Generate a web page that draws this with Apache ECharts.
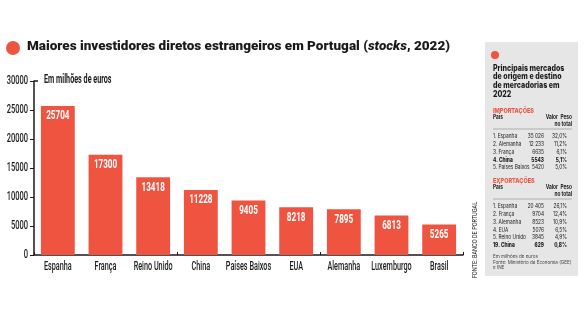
<!DOCTYPE html>
<html>
<head>
<meta charset="utf-8">
<script src="https://cdn.jsdelivr.net/npm/echarts@6/dist/echarts.min.js"></script>
<style>
  html, body { margin: 0; padding: 0; background: #ffffff; }
  #chart { width: 584px; height: 329px; }
</style>
</head>
<body>
<div id="chart"></div>
<script>
// Foreign direct investment stocks in Portugal, 2022 (million euros)
const countries = ['Espanha', 'França', 'Reino Unido', 'China', 'Países Baixos', 'EUA', 'Alemanha', 'Luxemburgo', 'Brasil'];
const investment = [25704, 17300, 13418, 11228, 9405, 8218, 7895, 6813, 5265];
const yTicks = [0, 5000, 10000, 15000, 20000, 25000, 30000];

// Side panel: main trading partners
const importCountries = ['1. Espanha', '2. Alemanha', '3. França', '4. China', '5. Países Baixos'];
const importValues = ['35 026', '12 233', '6635', '5543', '5420'];
const importShares = ['32,0%', '11,2%', '6,1%', '5,1%', '5,0%'];
const exportCountries = ['1. Espanha', '2. França', '3. Alemanha', '4. EUA', '5. Reino Unido', '19. China'];
const exportValues = ['20 405', '9704', '8523', '5076', '3845', '629'];
const exportShares = ['26,1%', '12,4%', '10,9%', '6,5%', '4,9%', '0,8%'];

const RED = '#ef5440';
const INK = '#1a1a1a';
const SANS = 'Roboto, "Noto Sans", sans-serif';
const HEAVY = 'Inter, Roboto, sans-serif';
const GRID_LEFT = 34;

const chart = echarts.init(document.getElementById('chart'), null, { renderer: 'canvas' });

chart.setOption({
  backgroundColor: '#ffffff',
  animation: false,
  title: {
    left: 27, top: 40, padding: 0,
    text: '{b|Maiores investidores diretos estrangeiros em Portugal (}{i|stocks}{b|, 2022)}',
    textStyle: {
      rich: {
        b: { fontFamily: SANS, fontWeight: 900, fontSize: 13.5, color: INK },
        i: { fontFamily: SANS, fontWeight: 900, fontStyle: 'italic', fontSize: 13.5, color: INK }
      }
    }
  },
  grid: { left: GRID_LEFT, right: 121, top: 81, bottom: 74, containLabel: false, outerBoundsMode: 'none' },
  xAxis: {
    type: 'category',
    data: countries,
    axisLine: { lineStyle: { color: INK, width: 1.5 } },
    axisTick: { show: true, inside: true, length: 3, lineStyle: { color: INK } },
    axisLabel: { show: false }
  },
  yAxis: {
    type: 'value',
    min: yTicks[0], max: yTicks[yTicks.length - 1], interval: 5000,
    axisLine: { show: true, lineStyle: { color: INK, width: 1.5 } },
    axisTick: { show: true, length: 4, lineStyle: { color: INK } },
    splitLine: { show: false },
    axisLabel: { show: false }
  },
  series: [{
    type: 'bar',
    data: investment,
    barWidth: '71%',
    itemStyle: { color: RED }
  }]
});

// Condensed text: regular faces squeezed horizontally
function narrow(x, y, text, size, weight, align, sx, fill) {
  return {
    type: 'text', x: x, y: y, scaleX: sx, silent: true, z: 100,
    style: {
      text: text, fill: fill || INK,
      font: weight + ' ' + size + 'px ' + SANS,
      textAlign: align, textVerticalAlign: 'middle'
    }
  };
}

const g = [];
const px = function (cat, v) { return chart.convertToPixel({ gridIndex: 0 }, [cat, v]); };

// category labels
countries.forEach(function (c) {
  const p = px(c, 0);
  g.push(narrow(p[0], p[1] + 12, c, 12.5, 500, 'center', 0.58));
});
// value-axis labels
yTicks.forEach(function (v) {
  const y = chart.convertToPixel({ yAxisIndex: 0 }, v);
  g.push(narrow(GRID_LEFT - 6, y, String(v), 12.5, 500, 'right', 0.6));
});
// stub at top of value axis
const topY = chart.convertToPixel({ yAxisIndex: 0 }, yTicks[yTicks.length - 1]);
g.push({ type: 'line', z: 100, shape: { x1: GRID_LEFT, y1: topY, x2: GRID_LEFT + 4, y2: topY }, style: { stroke: INK, lineWidth: 1.5 } });
// axis unit
g.push(narrow(GRID_LEFT + 10, topY - 1, 'Em milhões de euros', 12, 700, 'left', 0.6));
// bar value labels
countries.forEach(function (c, i) {
  const p = px(c, investment[i]);
  g.push(narrow(p[0], p[1] + 10, String(investment[i]), 13.5, 700, 'center', 0.6, '#ffffff'));
});
// source note
g.push({
  type: 'text', x: 475, y: 240, rotation: Math.PI / 2, scaleX: 0.7, silent: true, z: 100,
  style: { text: 'FONTE: BANCO DE PORTUGAL', fill: INK, font: '400 8px ' + SANS, textAlign: 'center', textVerticalAlign: 'middle' }
});

// title bullet
g.push({ type: 'circle', z: 100, shape: { cx: 13, cy: 48, r: 7 }, style: { fill: RED } });

// side panel
const PX = 493, VX = 544, SX = 567, VH = 558, SH = 572;
g.push({ type: 'rect', z: 50, shape: { x: 485, y: 42, width: 93, height: 234 }, style: { fill: '#e6e6e6' } });
g.push({ type: 'circle', z: 100, shape: { cx: 495, cy: 55, r: 4 }, style: { fill: RED } });
function ptxt(x, y, text, size, weight, align, fill, sx) {
  g.push({
    type: 'text', x: x, y: y, scaleX: sx || 0.8, silent: true, z: 100,
    style: { text: text, fill: fill || INK, font: weight + ' ' + size + 'px ' + HEAVY, textAlign: align || 'left', textVerticalAlign: 'middle' }
  });
}
['Principais mercados', 'de origem e destino', 'de mercadorias em', '2022'].forEach(function (t, i) {
  ptxt(PX, 68 + i * 8.7, t, 8.6, 800, 'left', INK, 0.82);
});
function table(title, y0, names, values, shares, boldName) {
  ptxt(PX, y0, title, 6.5, 800, 'left', RED, 0.85);
  ptxt(PX, y0 + 6, 'País', 6, 700);
  ptxt(VH, y0 + 6, 'Valor', 6, 700, 'right');
  ptxt(SH, y0 + 6, 'Peso', 6, 700, 'right');
  ptxt(SH, y0 + 13, 'no total', 6, 700, 'right');
  g.push({ type: 'line', z: 100, shape: { x1: PX, y1: y0 + 18, x2: SH, y2: y0 + 18 }, style: { stroke: '#8a8a8a', lineWidth: 0.6 } });
  names.forEach(function (n, i) {
    const y = y0 + 25.5 + i * 7.8;
    const w = n === boldName ? 800 : 400;
    ptxt(PX, y, n, 6, w);
    ptxt(VX, y, values[i], 6, w, 'right');
    ptxt(SX, y, shares[i], 6, w, 'right');
  });
}
table('IMPORTAÇÕES', 111, importCountries, importValues, importShares, '4. China');
table('EXPORTAÇÕES', 181, exportCountries, exportValues, exportShares, '19. China');
['Em milhões de euros', 'Fonte: Ministério da Economia (GEE)', 'e INE'].forEach(function (t, i) {
  ptxt(PX, 257 + i * 5.5, t, 4.8, 400, 'left', '#444444', 0.95);
});

chart.setOption({ graphic: g });
</script>
</body>
</html>
